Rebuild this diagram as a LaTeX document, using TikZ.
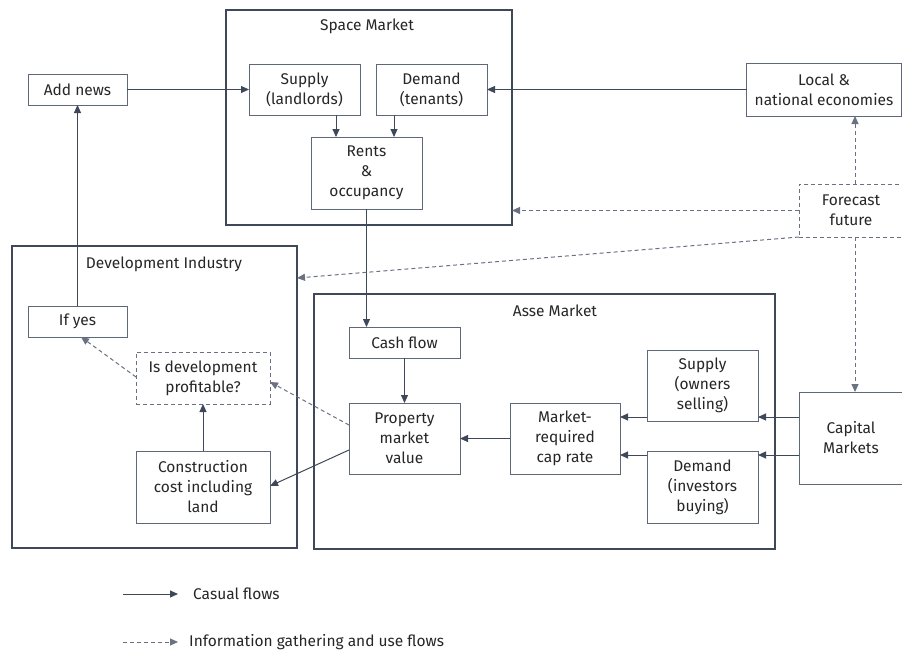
\documentclass[tikz,border=0pt]{standalone}
\usepackage{fontspec}
\setmainfont{Fira Sans}
\usetikzlibrary{arrows.meta,calc}
\definecolor{edgec}{HTML}{3E4858}
\definecolor{boxc}{HTML}{5F6878}
\definecolor{dashc}{HTML}{6A7282}
\definecolor{txtc}{HTML}{262626}
\begin{document}
\begin{tikzpicture}[x=1pt,y=-1pt,>={Triangle[length=8pt,width=7pt]},
		font=\fontsize{15.5}{20}\selectfont,text=txtc,
		box/.style={draw=boxc,line width=1pt,align=center,inner sep=0pt,outer sep=0pt},
		dbox/.style={box,draw=dashc,dash pattern=on 4pt off 3pt},
		grp/.style={draw=edgec,line width=1.8pt,inner sep=0pt,outer sep=0pt},
		flow/.style={->,draw=edgec,line width=1pt},
		info/.style={->,draw=dashc,line width=1pt,dash pattern=on 4pt off 3pt}]
	\useasboundingbox (0,0) rectangle (902,653);
	\node[grp,minimum width=286,minimum height=215] (space) at (369,117.5) {};
	\node (spacet) at (367,26) {Space Market};
	\node[grp,minimum width=285,minimum height=302] (dev) at (154.5,397) {};
	\node (devt) at (164,264) {Development Industry};
	\node[grp,minimum width=461,minimum height=255] (asset) at (544.5,421.5) {};
	\node (assett) at (555,311) {Asse Market};
	\node[box,minimum width=99,minimum height=31] (news) at (77.5,89.5) {Add news};
	\node[box,minimum width=111,minimum height=51] (sup) at (304.5,89.5) {Supply\\(landlords)};
	\node[box,minimum width=111,minimum height=51] (dem) at (431.5,89.5) {Demand\\(tenants)};
	\node[box,minimum width=111,minimum height=72] (rent) at (366.5,173) {Rents\\\&\\occupancy};
	\node[box,minimum width=155,minimum height=53] (econ) at (824,89.5) {Local \&\\national economies};
	\node[dbox,minimum width=104,minimum height=53] (fc) at (851,210.5) {Forecast\\future};
	\node[box,minimum width=99,minimum height=31] (yes) at (77.5,321.5) {If yes};
	\node[dbox,minimum width=134,minimum height=52] (prof) at (203,378) {Is development\\profitable?};
	\node[box,minimum width=134,minimum height=72] (cost) at (203,487) {Construction\\cost including\\land};
	\node[box,minimum width=111,minimum height=31] (cash) at (404.5,342.5) {Cash flow};
	\node[box,minimum width=111,minimum height=71] (pmv) at (404.5,438.5) {Property\\market\\value};
	\node[box,minimum width=110,minimum height=71] (cap) at (565,438.5) {Market-\\required\\cap rate};
	\node[box,minimum width=111,minimum height=71] (sell) at (702.5,385.5) {Supply\\(owners\\selling)};
	\node[box,minimum width=111,minimum height=72] (buy) at (702.5,487) {Demand\\(investors\\buying)};
	\node[box,minimum width=104,minimum height=92] (capm) at (851,438) {Capital\\Markets};
	\draw[flow] (news) -- (sup);
	\draw[flow] (econ) -- (dem);
	\draw[flow] (336,0 |- sup.south) -- (336,0 |- rent.north);
	\draw[flow] (394,0 |- dem.south) -- (394,0 |- rent.north);
	\draw[flow] (rent.south) -- (rent.south |- cash.north);
	\draw[flow] (cash) -- (pmv);
	\draw[flow] (cap) -- (pmv);
	\draw[flow] (sell.west |- 0,417) -- (cap.east |- 0,417);
	\draw[flow] (buy.west |- 0,455) -- (cap.east |- 0,455);
	\draw[flow] (capm.west |- 0,417) -- (sell.east |- 0,417);
	\draw[flow] (capm.west |- 0,455) -- (buy.east |- 0,455);
	\draw[flow] (yes) -- (news);
	\draw[flow] (cost) -- (prof);
	\draw[flow] (pmv.west |- 0,450) -- (cost.east |- 0,486);
	\draw[info] (pmv.west |- 0,425) -- (prof.east |- 0,382);
	\draw[info] (prof.west |- 0,377) -- (81,0 |- yes.south);
	\draw[info] (fc.west) -- (space.east |- fc.west);
	\draw[info] (855,0 |- fc.north) -- (855,0 |- econ.south);
	\draw[info] (855,0 |- fc.south) -- (855,0 |- capm.north);
	\draw[info] (fc.south west) -- (dev.east |- 0,278);
	\coordinate (la) at (123,594);
	\coordinate (lb) at (178,594);
	\coordinate (lc) at (123,642);
	\coordinate (ld) at (178,642);
	\draw[flow] (la) -- (lb);
	\draw[info] (lc) -- (ld);
	\node[anchor=west,inner sep=0pt] (lcas) at (193,594) {Casual flows};
	\node[anchor=west,inner sep=0pt] (linf) at (189,642) {Information gathering and use flows};
\end{tikzpicture}
\end{document}
